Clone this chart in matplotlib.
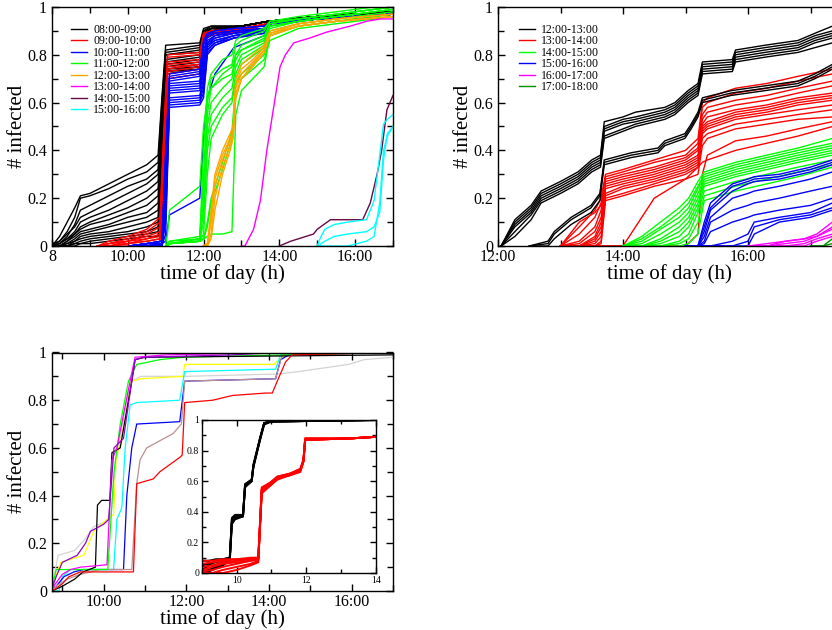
import matplotlib.pyplot as plt
from matplotlib.ticker import MultipleLocator, FixedLocator, FuncFormatter

plt.rcParams['font.family'] = ['Liberation Serif', 'DejaVu Serif']

# ---------------- top left panel: infection start 08:00 .. 15:00 ----------------
P1_T_08 = [8.0, 8.2, 8.4, 8.6, 8.75, 9.0, 9.5, 10.0, 10.5, 10.8, 10.9, 11.0,
           11.9, 12.0, 12.2, 13.0, 13.7, 15.0, 17.0]
P1_Y_08 = [
    [0.00, 0.04, 0.10, 0.16, 0.21, 0.22, 0.26, 0.30, 0.34, 0.38, 0.62, 0.84, 0.85, 0.91, 0.92, 0.92, 0.94, 0.96, 0.98],
    [0.00, 0.02, 0.06, 0.12, 0.20, 0.21, 0.24, 0.28, 0.31, 0.35, 0.60, 0.82, 0.84, 0.90, 0.92, 0.92, 0.94, 0.96, 0.98],
    [0.00, 0.01, 0.04, 0.09, 0.15, 0.17, 0.21, 0.25, 0.28, 0.32, 0.56, 0.81, 0.83, 0.90, 0.91, 0.92, 0.94, 0.96, 0.98],
    [0.01, 0.02, 0.05, 0.08, 0.12, 0.14, 0.18, 0.22, 0.26, 0.30, 0.55, 0.80, 0.82, 0.90, 0.91, 0.92, 0.94, 0.96, 0.98],
    [0.00, 0.01, 0.03, 0.06, 0.10, 0.12, 0.15, 0.19, 0.23, 0.27, 0.52, 0.80, 0.81, 0.89, 0.91, 0.92, 0.94, 0.96, 0.98],
    [0.00, 0.00, 0.02, 0.05, 0.08, 0.10, 0.13, 0.16, 0.20, 0.24, 0.50, 0.78, 0.80, 0.89, 0.91, 0.92, 0.94, 0.96, 0.98],
    [0.00, 0.01, 0.03, 0.05, 0.07, 0.09, 0.11, 0.14, 0.17, 0.21, 0.46, 0.77, 0.79, 0.89, 0.91, 0.92, 0.94, 0.96, 0.98],
    [0.00, 0.00, 0.02, 0.04, 0.06, 0.07, 0.09, 0.12, 0.14, 0.18, 0.42, 0.76, 0.78, 0.89, 0.91, 0.92, 0.94, 0.96, 0.98],
    [0.00, 0.00, 0.01, 0.03, 0.05, 0.06, 0.08, 0.10, 0.12, 0.15, 0.40, 0.75, 0.77, 0.88, 0.91, 0.92, 0.94, 0.96, 0.98],
    [0.00, 0.00, 0.01, 0.02, 0.04, 0.05, 0.06, 0.08, 0.10, 0.12, 0.38, 0.74, 0.76, 0.88, 0.90, 0.92, 0.94, 0.96, 0.98],
    [0.00, 0.00, 0.00, 0.02, 0.03, 0.04, 0.05, 0.06, 0.08, 0.10, 0.35, 0.74, 0.75, 0.88, 0.90, 0.92, 0.94, 0.96, 0.98],
    [0.00, 0.00, 0.00, 0.01, 0.02, 0.03, 0.04, 0.05, 0.06, 0.08, 0.30, 0.73, 0.75, 0.88, 0.90, 0.92, 0.94, 0.96, 0.98],
    [0.00, 0.00, 0.00, 0.01, 0.01, 0.02, 0.03, 0.04, 0.05, 0.06, 0.28, 0.73, 0.74, 0.88, 0.90, 0.92, 0.94, 0.96, 0.98],
    [0.00, 0.00, 0.00, 0.00, 0.01, 0.01, 0.02, 0.03, 0.04, 0.04, 0.25, 0.72, 0.74, 0.88, 0.90, 0.92, 0.94, 0.96, 0.98],
]

P1_T_09 = [9.2, 9.5, 10.0, 10.5, 10.85, 10.95, 11.05, 11.9, 12.0, 12.2, 13.0, 13.7, 15.0, 17.0]
P1_Y_09 = [
    [0.00, 0.01, 0.03, 0.06, 0.10, 0.45, 0.80, 0.81, 0.89, 0.90, 0.91, 0.93, 0.95, 0.97],
    [0.00, 0.02, 0.04, 0.07, 0.12, 0.48, 0.79, 0.80, 0.89, 0.90, 0.91, 0.93, 0.95, 0.97],
    [0.00, 0.01, 0.02, 0.05, 0.08, 0.40, 0.77, 0.78, 0.88, 0.90, 0.91, 0.93, 0.95, 0.97],
    [0.00, 0.00, 0.02, 0.04, 0.06, 0.38, 0.76, 0.77, 0.88, 0.89, 0.91, 0.93, 0.95, 0.97],
    [0.00, 0.00, 0.01, 0.03, 0.05, 0.35, 0.74, 0.76, 0.88, 0.89, 0.91, 0.93, 0.95, 0.97],
    [0.00, 0.01, 0.02, 0.03, 0.04, 0.30, 0.73, 0.75, 0.87, 0.89, 0.90, 0.93, 0.95, 0.97],
    [0.00, 0.00, 0.01, 0.02, 0.03, 0.28, 0.72, 0.74, 0.87, 0.89, 0.90, 0.93, 0.95, 0.97],
    [0.00, 0.00, 0.00, 0.01, 0.02, 0.25, 0.70, 0.72, 0.87, 0.88, 0.90, 0.93, 0.95, 0.97],
    [0.00, 0.00, 0.01, 0.02, 0.03, 0.30, 0.75, 0.76, 0.88, 0.89, 0.90, 0.93, 0.95, 0.97],
]

P1_T_10 = [10.05, 10.5, 10.9, 11.0, 11.1, 11.9, 12.0, 12.1, 12.3, 12.8, 13.6, 13.7, 15.0, 17.0]
P1_Y_10 = [
    [0.00, 0.01, 0.02, 0.40, 0.72, 0.74, 0.86, 0.89, 0.90, 0.91, 0.92, 0.93, 0.95, 0.97],
    [0.00, 0.01, 0.02, 0.38, 0.71, 0.73, 0.85, 0.88, 0.90, 0.91, 0.92, 0.93, 0.95, 0.97],
    [0.00, 0.01, 0.02, 0.35, 0.70, 0.72, 0.84, 0.88, 0.89, 0.90, 0.91, 0.93, 0.95, 0.97],
    [0.00, 0.01, 0.01, 0.32, 0.69, 0.71, 0.82, 0.87, 0.89, 0.90, 0.91, 0.93, 0.95, 0.97],
    [0.00, 0.00, 0.01, 0.30, 0.68, 0.69, 0.80, 0.86, 0.88, 0.90, 0.91, 0.93, 0.95, 0.97],
    [0.00, 0.00, 0.01, 0.28, 0.67, 0.68, 0.78, 0.85, 0.88, 0.89, 0.91, 0.93, 0.95, 0.97],
    [0.00, 0.01, 0.02, 0.25, 0.66, 0.67, 0.76, 0.85, 0.87, 0.89, 0.91, 0.93, 0.95, 0.97],
    [0.00, 0.00, 0.01, 0.22, 0.65, 0.66, 0.74, 0.84, 0.87, 0.89, 0.90, 0.93, 0.95, 0.97],
    [0.00, 0.00, 0.01, 0.20, 0.64, 0.65, 0.72, 0.84, 0.86, 0.88, 0.90, 0.93, 0.95, 0.97],
    [0.00, 0.00, 0.01, 0.18, 0.62, 0.63, 0.70, 0.83, 0.86, 0.88, 0.90, 0.93, 0.95, 0.97],
    [0.00, 0.00, 0.01, 0.15, 0.61, 0.62, 0.68, 0.82, 0.85, 0.88, 0.90, 0.93, 0.95, 0.97],
    [0.00, 0.00, 0.00, 0.12, 0.60, 0.61, 0.66, 0.82, 0.85, 0.87, 0.90, 0.93, 0.95, 0.97],
    [0.00, 0.00, 0.00, 0.10, 0.59, 0.60, 0.64, 0.81, 0.84, 0.87, 0.89, 0.93, 0.95, 0.97],
    [0.00, 0.00, 0.00, 0.05, 0.58, 0.59, 0.62, 0.80, 0.84, 0.87, 0.89, 0.93, 0.95, 0.97],
    [0.00, 0.01, 0.01, 0.02, 0.13, 0.20, 0.45, 0.62, 0.72, 0.83, 0.88, 0.92, 0.95, 0.97],
]

P1_T_11 = [11.0, 11.05, 11.1, 11.9, 12.0, 12.1, 12.2, 12.5, 12.75, 12.85, 13.0, 13.6, 13.75,
           14.5, 15.5, 16.5, 17.0]
P1_Y_11 = [
    [0.01, 0.05, 0.15, 0.25, 0.50, 0.62, 0.66, 0.72, 0.75, 0.80, 0.82, 0.86, 0.93, 0.95, 0.97, 0.99, 1.00],
    [0.00, 0.01, 0.02, 0.04, 0.30, 0.60, 0.70, 0.74, 0.76, 0.84, 0.86, 0.90, 0.94, 0.95, 0.97, 0.99, 1.00],
    [0.00, 0.01, 0.02, 0.03, 0.25, 0.55, 0.66, 0.70, 0.72, 0.80, 0.84, 0.88, 0.93, 0.95, 0.97, 0.99, 1.00],
    [0.00, 0.01, 0.01, 0.03, 0.20, 0.50, 0.60, 0.66, 0.70, 0.78, 0.82, 0.87, 0.92, 0.94, 0.96, 0.98, 0.99],
    [0.00, 0.00, 0.01, 0.02, 0.15, 0.45, 0.55, 0.62, 0.66, 0.75, 0.80, 0.85, 0.92, 0.94, 0.96, 0.98, 0.99],
    [0.00, 0.00, 0.01, 0.02, 0.10, 0.40, 0.50, 0.58, 0.62, 0.72, 0.78, 0.84, 0.91, 0.94, 0.96, 0.98, 0.99],
    [0.00, 0.00, 0.01, 0.02, 0.05, 0.30, 0.45, 0.55, 0.60, 0.70, 0.76, 0.83, 0.90, 0.93, 0.95, 0.97, 0.98],
    [0.00, 0.00, 0.01, 0.02, 0.03, 0.04, 0.05, 0.05, 0.06, 0.55, 0.65, 0.75, 0.88, 0.92, 0.94, 0.96, 0.97],
    [0.00, 0.00, 0.01, 0.02, 0.03, 0.10, 0.20, 0.35, 0.48, 0.68, 0.72, 0.80, 0.88, 0.92, 0.94, 0.96, 0.97],
    [0.00, 0.00, 0.01, 0.02, 0.03, 0.08, 0.18, 0.32, 0.45, 0.62, 0.70, 0.78, 0.86, 0.91, 0.93, 0.95, 0.96],
    [0.00, 0.00, 0.01, 0.03, 0.40, 0.66, 0.72, 0.78, 0.80, 0.86, 0.88, 0.91, 0.94, 0.96, 0.98, 1.00, 1.00],
]

P1_T_12 = [12.0, 12.1, 12.2, 12.3, 12.5, 12.7, 12.78, 12.85, 13.0, 13.3, 13.6, 13.75, 14.5, 15.5, 17.0]
P1_Y_12 = [
    [0.00, 0.01, 0.15, 0.30, 0.40, 0.47, 0.50, 0.70, 0.76, 0.80, 0.84, 0.90, 0.93, 0.95, 0.97],
    [0.00, 0.01, 0.12, 0.28, 0.38, 0.45, 0.48, 0.68, 0.74, 0.78, 0.83, 0.89, 0.93, 0.95, 0.97],
    [0.00, 0.00, 0.10, 0.25, 0.36, 0.44, 0.47, 0.66, 0.72, 0.77, 0.82, 0.89, 0.92, 0.94, 0.96],
    [0.00, 0.00, 0.05, 0.20, 0.33, 0.42, 0.46, 0.64, 0.70, 0.76, 0.82, 0.88, 0.92, 0.94, 0.96],
    [0.00, 0.00, 0.03, 0.15, 0.30, 0.40, 0.45, 0.62, 0.70, 0.75, 0.81, 0.88, 0.92, 0.94, 0.96],
]

P1_T_13 = [13.0, 13.09, 13.32, 13.5, 13.67, 13.85, 14.02, 14.16, 14.38, 14.8, 15.25, 15.87, 16.3, 16.66, 17.0]
P1_Y_13 = [[0.00, 0.00, 0.07, 0.19, 0.40, 0.58, 0.75, 0.80, 0.85, 0.87, 0.895, 0.92, 0.94, 0.95, 0.95]]

P1_T_14 = [14.0, 14.3, 14.9, 15.0, 15.35, 16.2, 16.4, 16.58, 16.7, 16.84, 17.0]
P1_Y_14 = [[0.00, 0.02, 0.05, 0.07, 0.11, 0.11, 0.18, 0.30, 0.40, 0.57, 0.63]]

P1_T_15 = [15.0, 15.05, 15.1, 15.2, 15.45, 15.8, 16.3, 16.5, 16.65, 16.75, 16.85, 17.0]
P1_Y_15 = [
    [0.00, 0.02, 0.04, 0.07, 0.09, 0.10, 0.11, 0.19, 0.38, 0.51, 0.53, 0.55],
    [0.00, 0.00, 0.01, 0.02, 0.04, 0.05, 0.06, 0.08, 0.14, 0.36, 0.47, 0.50],
    [0.00, 0.00, 0.00, 0.00, 0.00, 0.00, 0.02, 0.04, 0.18, 0.40, 0.46, 0.50],
]

P1_LABELS = ['08:00-09:00', '09:00-10:00', '10:00-11:00', '11:00-12:00',
             '12:00-13:00', '13:00-14:00', '14:00-15:00', '15:00-16:00']
P1_COLORS = ['#000000', '#ff0000', '#0000ff', '#00ff00',
             '#ffa500', '#ff00ff', '#670748', '#00ffff']

# ---------------- top right panel: infection start 12:00 .. 17:00 ----------------
P2_T_12A = [12.05, 12.27, 12.53, 12.69, 13.0, 13.28, 13.5, 13.64, 13.7, 14.0, 14.2, 14.67,
            14.83, 15.04, 15.2, 15.27, 15.75, 15.8, 16.27, 16.8, 17.07, 17.35, 17.5]
P2_Y_12A = [
    [0.00, 0.11, 0.17, 0.23, 0.27, 0.31, 0.36, 0.38, 0.52, 0.54, 0.56, 0.58, 0.60, 0.65, 0.68, 0.77, 0.78, 0.82, 0.84, 0.86, 0.89, 0.92, 0.93],
    [0.00, 0.10, 0.16, 0.22, 0.26, 0.30, 0.35, 0.37, 0.50, 0.53, 0.54, 0.57, 0.59, 0.64, 0.67, 0.76, 0.77, 0.81, 0.83, 0.85, 0.88, 0.90, 0.91],
    [0.00, 0.09, 0.15, 0.21, 0.25, 0.29, 0.34, 0.36, 0.49, 0.52, 0.53, 0.56, 0.58, 0.63, 0.66, 0.75, 0.76, 0.80, 0.82, 0.84, 0.87, 0.89, 0.90],
    [0.00, 0.08, 0.14, 0.20, 0.24, 0.28, 0.33, 0.35, 0.48, 0.51, 0.52, 0.55, 0.57, 0.62, 0.65, 0.74, 0.75, 0.79, 0.81, 0.83, 0.86, 0.88, 0.89],
    [0.00, 0.06, 0.13, 0.19, 0.23, 0.27, 0.32, 0.34, 0.46, 0.49, 0.51, 0.54, 0.56, 0.61, 0.64, 0.73, 0.74, 0.78, 0.80, 0.82, 0.85, 0.87, 0.88],
    [0.00, 0.04, 0.11, 0.18, 0.22, 0.26, 0.31, 0.33, 0.45, 0.48, 0.50, 0.53, 0.55, 0.60, 0.63, 0.72, 0.73, 0.77, 0.79, 0.81, 0.83, 0.85, 0.86],
]

P2_T_12B = [12.5, 12.8, 12.9, 13.17, 13.49, 13.63, 13.7, 14.13, 14.56, 14.67, 14.99, 15.09,
            15.2, 15.27, 15.73, 16.27, 16.8, 17.07, 17.35, 17.5]
P2_Y_12B = [
    [0.00, 0.02, 0.06, 0.12, 0.17, 0.22, 0.36, 0.39, 0.41, 0.44, 0.47, 0.51, 0.56, 0.62, 0.65, 0.67, 0.69, 0.72, 0.76, 0.77],
    [0.00, 0.01, 0.05, 0.11, 0.16, 0.21, 0.35, 0.38, 0.40, 0.43, 0.46, 0.50, 0.55, 0.61, 0.64, 0.66, 0.68, 0.71, 0.75, 0.76],
    [0.00, 0.00, 0.03, 0.09, 0.14, 0.19, 0.34, 0.37, 0.39, 0.42, 0.45, 0.49, 0.54, 0.60, 0.63, 0.65, 0.67, 0.70, 0.74, 0.75],
]

P2_T_13 = [13.0, 13.3, 13.55, 13.65, 13.72, 14.0, 14.5, 15.0, 15.2, 15.27, 15.35, 15.8, 16.3, 16.8, 17.35, 17.5]
P2_Y_13 = [
    [0.00, 0.08, 0.15, 0.20, 0.30, 0.32, 0.36, 0.40, 0.45, 0.60, 0.62, 0.66, 0.68, 0.71, 0.74, 0.75],
    [0.00, 0.05, 0.12, 0.18, 0.29, 0.31, 0.35, 0.38, 0.43, 0.58, 0.60, 0.64, 0.66, 0.69, 0.72, 0.73],
    [0.00, 0.10, 0.14, 0.17, 0.28, 0.30, 0.33, 0.37, 0.41, 0.55, 0.58, 0.61, 0.63, 0.66, 0.69, 0.70],
    [0.00, 0.02, 0.08, 0.15, 0.27, 0.29, 0.32, 0.36, 0.40, 0.53, 0.56, 0.59, 0.61, 0.64, 0.67, 0.68],
    [0.00, 0.01, 0.06, 0.12, 0.26, 0.28, 0.31, 0.35, 0.38, 0.51, 0.54, 0.57, 0.59, 0.62, 0.64, 0.65],
    [0.00, 0.00, 0.04, 0.10, 0.25, 0.27, 0.30, 0.34, 0.37, 0.50, 0.52, 0.56, 0.58, 0.61, 0.63, 0.64],
    [0.00, 0.00, 0.03, 0.08, 0.24, 0.26, 0.29, 0.33, 0.36, 0.49, 0.51, 0.55, 0.57, 0.60, 0.62, 0.63],
    [0.00, 0.00, 0.02, 0.06, 0.22, 0.25, 0.28, 0.32, 0.35, 0.48, 0.50, 0.54, 0.56, 0.59, 0.61, 0.62],
    [0.00, 0.00, 0.01, 0.04, 0.21, 0.24, 0.27, 0.31, 0.34, 0.47, 0.49, 0.53, 0.55, 0.57, 0.59, 0.60],
    [0.00, 0.00, 0.00, 0.02, 0.20, 0.22, 0.26, 0.30, 0.33, 0.45, 0.47, 0.51, 0.53, 0.55, 0.57, 0.58],
    [0.00, 0.00, 0.00, 0.01, 0.19, 0.21, 0.25, 0.28, 0.30, 0.42, 0.45, 0.49, 0.51, 0.53, 0.54, 0.55],
    [0.00, 0.00, 0.00, 0.00, 0.00, 0.00, 0.20, 0.28, 0.33, 0.35, 0.36, 0.40, 0.43, 0.46, 0.50, 0.51],
    [0.00, 0.00, 0.00, 0.00, 0.00, 0.00, 0.00, 0.00, 0.05, 0.30, 0.38, 0.44, 0.46, 0.49, 0.52, 0.53],
]

P2_T_14 = [14.0, 14.3, 14.6, 14.9, 15.05, 15.2, 15.3, 15.8, 16.3, 16.8, 17.35, 17.5]
P2_Y_14 = [
    [0.00, 0.04, 0.10, 0.16, 0.20, 0.27, 0.31, 0.35, 0.38, 0.41, 0.45, 0.46],
    [0.00, 0.03, 0.08, 0.14, 0.18, 0.25, 0.30, 0.34, 0.37, 0.40, 0.43, 0.44],
    [0.00, 0.02, 0.07, 0.12, 0.16, 0.24, 0.29, 0.33, 0.36, 0.39, 0.42, 0.43],
    [0.00, 0.01, 0.05, 0.10, 0.14, 0.22, 0.28, 0.32, 0.35, 0.38, 0.41, 0.42],
    [0.00, 0.00, 0.03, 0.08, 0.12, 0.20, 0.27, 0.31, 0.34, 0.37, 0.40, 0.41],
    [0.00, 0.00, 0.02, 0.06, 0.10, 0.18, 0.26, 0.30, 0.33, 0.36, 0.39, 0.40],
    [0.00, 0.00, 0.01, 0.04, 0.08, 0.16, 0.25, 0.29, 0.32, 0.35, 0.38, 0.39],
    [0.00, 0.00, 0.00, 0.02, 0.05, 0.14, 0.23, 0.27, 0.30, 0.33, 0.36, 0.37],
    [0.00, 0.00, 0.00, 0.01, 0.03, 0.10, 0.21, 0.25, 0.28, 0.31, 0.34, 0.35],
    [0.00, 0.00, 0.00, 0.00, 0.01, 0.05, 0.19, 0.23, 0.26, 0.29, 0.33, 0.34],
]

P2_T_15 = [15.0, 15.2, 15.3, 15.4, 15.75, 16.0, 16.1, 16.5, 17.0, 17.35, 17.5]
P2_Y_15 = [
    [0.00, 0.00, 0.10, 0.18, 0.26, 0.28, 0.29, 0.30, 0.33, 0.36, 0.37],
    [0.00, 0.00, 0.08, 0.16, 0.25, 0.27, 0.28, 0.29, 0.32, 0.35, 0.36],
    [0.00, 0.00, 0.06, 0.15, 0.23, 0.26, 0.27, 0.28, 0.31, 0.34, 0.35],
    [0.00, 0.00, 0.04, 0.12, 0.20, 0.22, 0.23, 0.25, 0.28, 0.31, 0.32],
    [0.00, 0.00, 0.02, 0.10, 0.15, 0.17, 0.18, 0.20, 0.23, 0.25, 0.26],
    [0.00, 0.00, 0.01, 0.06, 0.10, 0.12, 0.13, 0.15, 0.17, 0.20, 0.21],
    [0.00, 0.00, 0.00, 0.00, 0.02, 0.05, 0.10, 0.12, 0.14, 0.18, 0.19],
    [0.00, 0.00, 0.00, 0.00, 0.00, 0.02, 0.08, 0.11, 0.13, 0.16, 0.17],
    [0.00, 0.00, 0.00, 0.00, 0.00, 0.00, 0.05, 0.10, 0.12, 0.15, 0.16],
]

P2_T_16 = [16.0, 16.3, 16.6, 16.9, 17.1, 17.35, 17.5]
P2_Y_16 = [
    [0.00, 0.01, 0.02, 0.03, 0.05, 0.10, 0.11],
    [0.00, 0.00, 0.02, 0.03, 0.04, 0.08, 0.09],
    [0.00, 0.00, 0.01, 0.02, 0.04, 0.07, 0.08],
    [0.00, 0.00, 0.00, 0.01, 0.03, 0.05, 0.06],
    [0.00, 0.00, 0.00, 0.00, 0.02, 0.04, 0.05],
]

P2_T_17 = [17.0, 17.2, 17.35, 17.5]
P2_Y_17 = [
    [0.00, 0.00, 0.03, 0.04],
    [0.00, 0.00, 0.01, 0.02],
]

P2_LABELS = ['12:00-13:00', '13:00-14:00', '14:00-15:00',
             '15:00-16:00', '16:00-17:00', '17:00-18:00']
P2_COLORS = ['#000000', '#ff0000', '#00ff00', '#0000ff', '#ff00ff', '#008b00']

# ---------------- bottom panel: single runs ----------------
P3_GREY_T = [8.75, 8.9, 9.3, 9.56, 9.76, 10.16, 10.3, 10.56, 10.68, 10.9, 12.0, 14.24, 14.72, 15.92, 16.3, 17.0]
P3_GREY_Y = [0.02, 0.15, 0.17, 0.22, 0.27, 0.30, 0.55, 0.80, 0.88, 0.90, 0.90, 0.91, 0.92, 0.95, 0.97, 0.98]

P3_YELLOW_T = [8.75, 8.96, 9.52, 9.76, 10.08, 10.24, 10.3, 10.5, 10.68, 10.9, 11.92, 11.96, 14.12, 14.24,
               14.48, 14.72, 17.0]
P3_YELLOW_Y = [0.02, 0.12, 0.15, 0.25, 0.30, 0.32, 0.55, 0.70, 0.88, 0.89, 0.90, 0.95, 0.95, 0.97,
               0.99, 1.00, 1.00]

P3_CYAN_T = [8.75, 8.92, 9.0, 9.2, 10.24, 10.32, 10.44, 10.52, 10.64, 10.8, 11.84, 11.96, 14.16, 14.28, 14.48, 17.0]
P3_CYAN_Y = [0.00, 0.00, 0.06, 0.09, 0.09, 0.30, 0.35, 0.60, 0.78, 0.79, 0.80, 0.92, 0.93, 0.99, 1.00, 1.00]

P3_BLUE_T = [8.75, 8.85, 9.04, 9.28, 9.52, 10.48, 10.56, 10.68, 10.8, 11.84, 11.96, 14.16, 14.28, 14.48, 17.0]
P3_BLUE_Y = [0.01, 0.02, 0.06, 0.08, 0.09, 0.09, 0.40, 0.60, 0.70, 0.71, 0.88, 0.89, 0.97, 0.99, 1.00]

P3_BROWN_T = [8.75, 9.12, 9.44, 9.92, 10.68, 10.8, 10.88, 11.04, 11.36, 11.68, 11.88, 11.96, 14.16, 14.32, 14.6, 17.0]
P3_BROWN_Y = [0.01, 0.05, 0.07, 0.09, 0.09, 0.45, 0.55, 0.60, 0.63, 0.66, 0.70, 0.88, 0.89, 0.99, 1.00, 1.00]

P3_GREEN_T = [8.75, 8.85, 10.1, 10.25, 10.4, 10.6, 10.8, 11.36, 11.92, 13.0, 14.5, 17.0]
P3_GREEN_Y = [0.01, 0.09, 0.09, 0.50, 0.70, 0.88, 0.95, 0.97, 0.98, 0.985, 0.99, 1.00]

P3_BLACK_T = [8.75, 9.0, 9.3, 9.5, 9.8, 9.85, 9.95, 10.15, 10.2, 10.4, 10.5, 10.68, 10.76, 11.0, 17.0]
P3_BLACK_Y = [0.00, 0.02, 0.05, 0.08, 0.10, 0.36, 0.38, 0.38, 0.58, 0.60, 0.70, 0.88, 0.97, 0.98, 0.99]

P3_MAGENTA_T = [8.75, 9.0, 9.2, 9.44, 10.08, 10.2, 10.32, 10.64, 10.76, 11.5, 14.3, 17.0]
P3_MAGENTA_Y = [0.01, 0.07, 0.09, 0.10, 0.11, 0.55, 0.60, 0.88, 0.98, 0.99, 1.00, 1.00]

P3_VIOLET_T = [8.75, 8.85, 9.0, 9.36, 9.56, 9.68, 10.0, 10.12, 10.25, 10.48, 10.68, 10.76, 10.96, 13.1, 14.24, 17.0]
P3_VIOLET_Y = [0.01, 0.06, 0.12, 0.15, 0.20, 0.25, 0.28, 0.30, 0.60, 0.64, 0.88, 0.97, 0.98, 0.99, 1.00, 1.00]

P3_RED_T = [8.75, 9.0, 9.16, 9.44, 10.72, 10.8, 11.2, 11.36, 11.6, 11.84, 11.9, 11.96, 12.64, 13.12,
            13.92, 14.08, 14.2, 14.4, 14.56, 17.0]
P3_RED_Y = [0.00, 0.03, 0.06, 0.08, 0.08, 0.45, 0.47, 0.50, 0.53, 0.56, 0.57, 0.79, 0.80, 0.82,
            0.83, 0.83, 0.88, 0.96, 0.99, 1.00]

# inset: ensembles of two scenarios
IN_T_BLACK = [9.0, 9.2, 9.4, 9.6, 9.8, 9.86, 9.95, 10.18, 10.24, 10.43, 10.48, 10.67, 10.79, 11.0, 14.0]
IN_Y_BLACK = [
    [0.02, 0.05, 0.08, 0.09, 0.10, 0.36, 0.38, 0.38, 0.58, 0.61, 0.70, 0.88, 0.98, 0.99, 1.00],
    [0.05, 0.06, 0.07, 0.08, 0.10, 0.35, 0.37, 0.38, 0.57, 0.60, 0.70, 0.87, 0.98, 0.99, 1.00],
    [0.08, 0.08, 0.09, 0.09, 0.10, 0.34, 0.36, 0.37, 0.56, 0.60, 0.69, 0.87, 0.97, 0.99, 1.00],
    [0.00, 0.01, 0.03, 0.06, 0.09, 0.33, 0.36, 0.37, 0.57, 0.60, 0.70, 0.88, 0.98, 0.99, 1.00],
    [0.01, 0.02, 0.04, 0.05, 0.08, 0.32, 0.35, 0.37, 0.58, 0.61, 0.71, 0.88, 0.98, 0.99, 1.00],
]

IN_T_RED = [9.0, 9.3, 9.6, 10.0, 10.4, 10.62, 10.72, 10.96, 11.17, 11.54, 11.83, 11.92, 11.97, 13.3, 14.0]
IN_Y_RED = [
    [0.08, 0.08, 0.09, 0.09, 0.10, 0.10, 0.56, 0.59, 0.63, 0.65, 0.68, 0.74, 0.88, 0.88, 0.89],
    [0.06, 0.07, 0.08, 0.09, 0.09, 0.10, 0.55, 0.59, 0.63, 0.65, 0.68, 0.74, 0.88, 0.88, 0.89],
    [0.04, 0.05, 0.07, 0.08, 0.09, 0.09, 0.55, 0.58, 0.62, 0.65, 0.67, 0.73, 0.87, 0.88, 0.89],
    [0.02, 0.04, 0.06, 0.07, 0.08, 0.09, 0.54, 0.58, 0.62, 0.64, 0.67, 0.73, 0.87, 0.88, 0.89],
    [0.01, 0.02, 0.04, 0.06, 0.08, 0.09, 0.54, 0.58, 0.62, 0.64, 0.67, 0.73, 0.87, 0.88, 0.89],
    [0.00, 0.00, 0.02, 0.04, 0.06, 0.08, 0.53, 0.57, 0.62, 0.64, 0.67, 0.73, 0.87, 0.88, 0.89],
    [0.00, 0.00, 0.00, 0.02, 0.05, 0.07, 0.52, 0.57, 0.61, 0.64, 0.66, 0.73, 0.87, 0.88, 0.89],
]


def draw_group(ax, times, curves, color, lw=1.0, label=None):
    first = None
    for vals in curves:
        line, = ax.plot(times, vals, color=color, lw=lw)
        if first is None:
            first = line
            line.set_label(label)
    return first


def style_axes(ax, xlim, xmajor, xlabels, label_size=11.5):
    ax.set_xlim(*xlim)
    ax.set_ylim(0, 1)
    ax.xaxis.set_major_locator(FixedLocator(xmajor))
    ax.set_xticklabels(xlabels)
    ax.xaxis.set_minor_locator(MultipleLocator(1))
    ax.yaxis.set_major_locator(MultipleLocator(0.2))
    ax.yaxis.set_minor_locator(MultipleLocator(0.1))
    ax.yaxis.set_major_formatter(FuncFormatter(lambda v, p: f'{v:g}'))
    ax.tick_params(which='both', direction='in', top=True, right=True,
                   labelsize=label_size, width=1.0)
    ax.tick_params(which='major', length=5)
    ax.tick_params(which='minor', length=4)
    ax.tick_params(axis='x', pad=2.5)
    for sp in ax.spines.values():
        sp.set_linewidth(1.0)


def add_axis_labels(ax, xpos=0.5):
    ax.set_xlabel('time of day (h)', fontsize=15, labelpad=-1, x=xpos)
    ax.set_ylabel('# infected', fontsize=15, labelpad=0)


def add_legend(ax, handles):
    ax.legend(handles=handles, loc='upper left', bbox_to_anchor=(0.055, 0.93),
              frameon=False, fontsize=8.5, handlelength=1.4, handletextpad=0.5,
              labelspacing=-0.04, borderpad=0, borderaxespad=0)


fig = plt.figure(figsize=(8.32, 6.30), dpi=100)

# top left
ax1 = fig.add_axes([52 / 832, 1 - 246 / 630, 341 / 832, 239 / 630])
groups1 = [(P1_T_08, P1_Y_08), (P1_T_09, P1_Y_09), (P1_T_10, P1_Y_10), (P1_T_11, P1_Y_11),
           (P1_T_12, P1_Y_12), (P1_T_13, P1_Y_13), (P1_T_14, P1_Y_14), (P1_T_15, P1_Y_15)]
handles1 = [draw_group(ax1, t, y, c, label=lab)
            for (t, y), c, lab in zip(groups1, P1_COLORS, P1_LABELS)]
style_axes(ax1, (8, 17), [8, 10, 12, 14, 16], ['8', '10:00', '12:00', '14:00', '16:00'])
add_axis_labels(ax1)
add_legend(ax1, handles1)

# top right (runs past the right edge of the figure)
ax2 = fig.add_axes([498 / 832, 1 - 246 / 630, 375 / 832, 239 / 630])
groups2 = [(P2_T_12A, P2_Y_12A), (P2_T_13, P2_Y_13), (P2_T_14, P2_Y_14),
           (P2_T_15, P2_Y_15), (P2_T_16, P2_Y_16), (P2_T_17, P2_Y_17)]
handles2 = [draw_group(ax2, t, y, c, label=lab)
            for (t, y), c, lab in zip(groups2, P2_COLORS, P2_LABELS)]
draw_group(ax2, P2_T_12B, P2_Y_12B, '#000000')
style_axes(ax2, (12, 18), [12, 14, 16], ['12:00', '14:00', '16:00'])
# centre the x label on the visible part of the panel
add_axis_labels(ax2, xpos=(669 - 498) / 375)
add_legend(ax2, handles2)

# bottom left
ax3 = fig.add_axes([52 / 832, 1 - 591 / 630, 341 / 832, 238.5 / 630])
runs3 = [(P3_GREY_T, P3_GREY_Y, '#d3d3d3'), (P3_YELLOW_T, P3_YELLOW_Y, '#ffff00'),
         (P3_CYAN_T, P3_CYAN_Y, '#00ffff'), (P3_BLUE_T, P3_BLUE_Y, '#0000ff'),
         (P3_BROWN_T, P3_BROWN_Y, '#bc8f8f'), (P3_GREEN_T, P3_GREEN_Y, '#00ff00'),
         (P3_BLACK_T, P3_BLACK_Y, '#000000'), (P3_MAGENTA_T, P3_MAGENTA_Y, '#ff00ff'),
         (P3_VIOLET_T, P3_VIOLET_Y, '#9400d3'), (P3_RED_T, P3_RED_Y, '#ff0000')]
for t, y, c in runs3:
    ax3.plot(t, y, color=c, lw=0.9)
style_axes(ax3, (8.75, 17), [10, 12, 14, 16], ['10:00', '12:00', '14:00', '16:00'])
add_axis_labels(ax3)

# inset
ax4 = fig.add_axes([202 / 832, 1 - 573 / 630, 173.7 / 832, 153 / 630])
draw_group(ax4, IN_T_BLACK, IN_Y_BLACK, '#000000', lw=1.4)
draw_group(ax4, IN_T_RED, IN_Y_RED, '#ff0000', lw=1.4)
style_axes(ax4, (9, 14), [10, 12, 14], ['10', '12', '14'], label_size=7)
ax4.tick_params(which='major', length=4, pad=2)
ax4.tick_params(which='minor', length=3)

fig.savefig('out.png', dpi=100)
